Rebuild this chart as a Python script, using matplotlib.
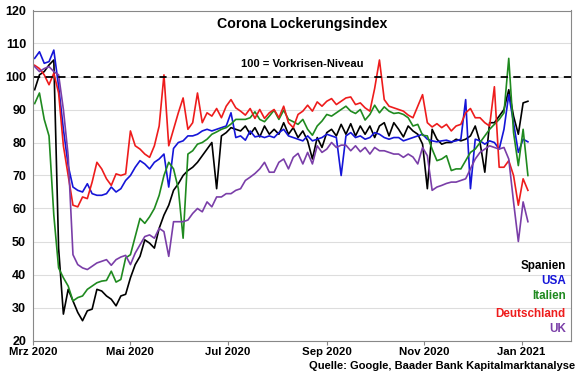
import matplotlib
matplotlib.use("Agg")
import matplotlib.pyplot as plt
import pandas as pd

plt.rcParams['font.family'] = ['Liberation Sans', 'DejaVu Sans']
plt.rcParams['font.weight'] = 'bold'

# every third day, 2 Mar 2020 .. 5 Jan 2021
dates = pd.date_range("2020-03-02", periods=104, freq="3D")

spanien = [96, 100.5, 101.5, 103.5, 105, 48, 28, 35.5, 32, 28.5,
           26, 29, 29.5, 35.5, 35, 33.5, 32.5, 30.5, 33.5, 34,
           39, 43, 45.5, 50.5, 49.5, 48, 54, 58, 61, 65.5,
           67.5, 70, 71.5, 72.5, 74, 76, 78, 80, 66, 82,
           83, 84.5, 84, 83.5, 85, 82.5, 84.5, 81.7, 85, 82.5,
           84, 82.5, 86, 82.5, 84.5, 81.5, 83.5, 80.5, 75, 81.5,
           78.5, 83, 84, 82, 85.5, 82.5, 85.7, 82, 85, 82.5,
           85, 81.5, 85, 86, 82, 86, 84, 81.7, 85, 83.5,
           82.5, 79.5, 66, 84, 81, 79.5, 80, 80, 81, 80.5,
           81, 82, 85, 80, 71, 86, 86, 88, 90, 96,
           88, 82.5, 92, 92.5]

usa = [105.5, 107.5, 104, 104.5, 108, 97, 84, 73, 66.5, 65.5,
       65, 67.5, 64.5, 64, 64, 64.5, 66.5, 65, 66, 68.5,
       70, 72.5, 74.5, 73.5, 72, 74, 75, 76.5, 66.5, 78.2,
       80, 80.5, 82, 82, 82.5, 83.5, 84, 83.5, 84, 84.5,
       85, 89, 81.5, 82, 80.7, 83.5, 81.7, 82, 81.5, 82,
       81.5, 83, 84, 82, 81.5, 81, 80.5, 82, 80.5, 81,
       81.5, 82.5, 82, 81.5, 70, 82, 83, 81.5, 82, 81,
       81.5, 83, 82.5, 81.5, 81, 81.5, 81.5, 80.5, 81, 81.5,
       82, 82.5, 81, 80.5, 80.2, 80.5, 80.7, 80.2, 80.5, 81,
       93, 66, 81, 80.5, 79.5, 80.5, 80, 78, 84, 94.5,
       86, 77, 81, 80.2]

italien = [91.8, 95, 87, 82, 58, 42, 39, 36.5, 32, 33,
           33.5, 35.5, 36.5, 37.5, 38, 38.2, 41, 37.7, 38.5, 45,
           46, 51.5, 57, 55.5, 57.5, 60, 64, 70, 74, 72,
           66, 51, 76.5, 77.5, 79.5, 80, 81, 82.5, 83.2, 84,
           84.5, 85.6, 87, 87, 87, 87.5, 89.3, 87, 86.3, 88,
           89.8, 87, 89.8, 87, 86.3, 85.5, 87, 84, 82.2, 85,
           86.5, 88.5, 88, 89, 90, 91, 89.5, 88.8, 90, 86.8,
           88.5, 91.3, 89, 90.8, 89.5, 88.8, 89, 88.5, 87.5, 85,
           85.5, 82.2, 82, 78, 74.5, 75, 76, 71.5, 72, 72,
           74.5, 77, 78, 80, 82, 84, 85.5, 87, 89, 105.5,
           83, 73, 84, 70]

deutschland = [103.4, 102.4, 100.5, 97.5, 101, 95, 79, 70, 61, 60.5,
               63.5, 63, 68, 74, 72, 69, 67, 70.5, 70, 70.5,
               83.5, 79, 78, 76.5, 75.5, 79, 85, 100.5, 79, 84,
               89, 93.5, 84, 86, 95, 86, 89, 88, 90.3, 87.5,
               91, 93, 90.5, 89.5, 88.3, 90.3, 87.3, 90, 87.3, 89,
               90, 87.5, 91, 86, 84.5, 88.5, 89.5, 91.3, 89.5, 92.3,
               91, 92.5, 93.3, 91.5, 92.5, 93.5, 93.8, 91.5, 92, 90.5,
               89.5, 96.4, 105, 93, 91, 90.5, 90, 89.5, 88.3, 87.5,
               91, 94.5, 86, 84.7, 85.7, 84.5, 85.5, 83.5, 85, 85.5,
               89, 90.3, 87.5, 87.5, 86, 85, 96.9, 72.5, 72.5, 74.5,
               70, 61, 69, 65.5]

uk = [103, 101.5, 102.4, 103, 101.5, 100.5, 90, 76, 46, 43,
      42, 41.5, 42.5, 43.5, 44, 44.5, 42.8, 44.5, 45.3, 45.8,
      43, 46.5, 49, 51.5, 52, 51, 54, 53, 45.5, 56,
      56, 56, 56.5, 58.5, 60, 59, 62, 60.5, 63.5, 63.5,
      64.5, 64.5, 65.5, 66, 68.5, 69.5, 70.6, 72, 74, 71,
      71, 74, 75, 72, 75.5, 76.7, 73.5, 77, 73.5, 79,
      77, 78, 80, 78.5, 79.2, 79.2, 77.5, 79, 77.2, 78.5,
      76.5, 78.5, 77.5, 77.5, 77, 76.5, 76.5, 75.5, 76.5, 75.6,
      73.5, 78.5, 76, 65.5, 66.5, 67, 67.6, 68, 68, 68.5,
      69, 72, 75, 77, 78, 79, 78.5, 78, 78.5, 75,
      62, 50, 62, 56]

series = [
    ("Spanien", spanien, "black"),
    ("USA", usa, "#1515d8"),
    ("Italien", italien, "#1f8a1f"),
    ("Deutschland", deutschland, "#ee1c1c"),
    ("UK", uk, "#7a3ea8"),
]

tick_dates = pd.to_datetime(["2020-03-01", "2020-05-01", "2020-07-01",
                             "2020-09-01", "2020-11-01", "2021-01-01"])
tick_labels = ["Mrz 2020", "Mai 2020", "Jul 2020", "Sep 2020", "Nov 2020", "Jan 2021"]

fig = plt.figure(figsize=(5.8, 3.75), dpi=100)
ax = fig.add_axes([0.057, 0.092, 0.9275, 0.88])

for name, vals, col in series:
    ax.plot(dates, vals, color=col, lw=1.2)

ax.axhline(100, color="black", lw=1.3, ls=(0, (4, 3)))

ax.set_xlim(pd.Timestamp("2020-03-01"), pd.Timestamp("2021-02-01"))
ax.set_ylim(20, 120)
ax.set_yticks(range(20, 121, 10))
ax.set_xticks(tick_dates)
ax.set_xticklabels(tick_labels)
ax.tick_params(axis="x", labelsize=8.2, length=3, pad=1.5, color="#888888")
ax.tick_params(axis="y", labelsize=9, length=0, pad=5)
ax.grid(axis="y", color="#dddddd", lw=0.8)
ax.set_axisbelow(True)
for s in ax.spines.values():
    s.set_color("#888888")

ax.text(0.5, 0.98, "Corona Lockerungsindex", transform=ax.transAxes,
        ha="center", va="top", fontsize=10.2, fontweight="bold")
ax.text(0.5, 0.822, "100 = Vorkrisen-Niveau", transform=ax.transAxes,
        ha="center", va="bottom", fontsize=8, fontweight="bold")

ys = [0.226, 0.181, 0.135, 0.080, 0.036]
for (name, vals, col), yy in zip(series, ys):
    ax.text(0.99, yy, name, transform=ax.transAxes, ha="right", va="center",
            fontsize=8.4, fontweight="bold", color=col)

fig.text(0.991, 0.024, "Quelle: Google, Baader Bank Kapitalmarktanalyse",
         ha="right", va="center", fontsize=8, fontweight="bold")

fig.savefig("out.png", dpi=100)
